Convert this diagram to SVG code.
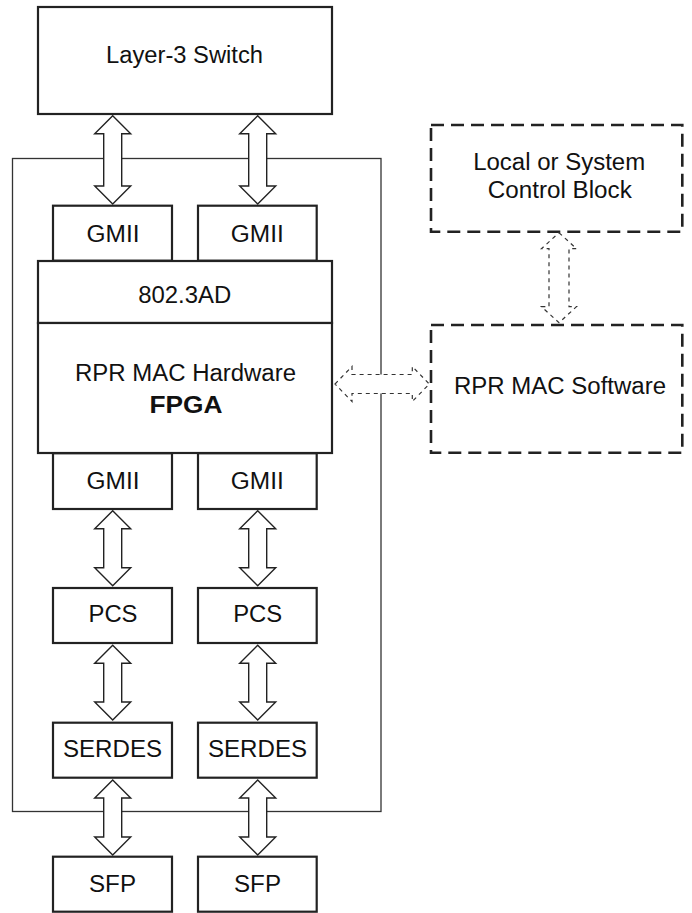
<svg xmlns="http://www.w3.org/2000/svg" width="692" height="913" viewBox="0 0 692 913">
  <style>
    .box { fill: #fff; stroke: #222; stroke-width: 2.2; }
    .dbox { fill: #fff; stroke: #222; stroke-width: 2.6; stroke-dasharray: 13 7; }
    .frame { fill: none; stroke: #333; stroke-width: 1.3; }
    .arrow { fill: #fff; stroke: #222; stroke-width: 1.4; stroke-linejoin: miter; }
    .darrow { fill: #fff; stroke: #333; stroke-width: 1.2; stroke-dasharray: 4 4; }
    text { font-family: "Liberation Sans", Arial, Helvetica, sans-serif; font-size: 23px; fill: #111; text-anchor: middle; }
    .bold { font-weight: bold; }
  </style>

  <!-- board outline -->
  <rect class="frame" x="12.5" y="158.5" width="368.5" height="653"/>

  <!-- nodes -->
  <g id="layer3-switch">
    <rect class="box" x="38" y="7" width="294" height="107"/>
    <text x="184.5" y="63.3" textLength="157" lengthAdjust="spacingAndGlyphs">Layer-3 Switch</text>
  </g>

  <g id="gmii-top-left">
    <rect class="box" x="53" y="205.7" width="119" height="55"/>
    <text x="113" y="242.3" textLength="53" lengthAdjust="spacingAndGlyphs">GMII</text>
  </g>
  <g id="gmii-top-right">
    <rect class="box" x="198" y="205.7" width="118.7" height="55"/>
    <text x="257.3" y="242.3" textLength="53" lengthAdjust="spacingAndGlyphs">GMII</text>
  </g>

  <g id="ieee-802-3ad">
    <rect class="box" x="38" y="261" width="294" height="62"/>
    <text x="184.7" y="302.7" textLength="93" lengthAdjust="spacingAndGlyphs">802.3AD</text>
  </g>

  <g id="rpr-mac-hardware">
    <rect class="box" x="38" y="323" width="294" height="130"/>
    <text x="185.5" y="380.7" textLength="221" lengthAdjust="spacingAndGlyphs">RPR MAC Hardware</text>
    <text class="bold" x="186" y="412.7" textLength="73" lengthAdjust="spacingAndGlyphs">FPGA</text>
  </g>

  <g id="gmii-bottom-left">
    <rect class="box" x="53" y="453.3" width="119" height="55.7"/>
    <text x="113" y="489" textLength="53" lengthAdjust="spacingAndGlyphs">GMII</text>
  </g>
  <g id="gmii-bottom-right">
    <rect class="box" x="198" y="453.3" width="118.7" height="55.7"/>
    <text x="257.3" y="489" textLength="53" lengthAdjust="spacingAndGlyphs">GMII</text>
  </g>

  <g id="pcs-left">
    <rect class="box" x="53" y="588" width="119" height="55"/>
    <text x="113" y="622.3" textLength="49" lengthAdjust="spacingAndGlyphs">PCS</text>
  </g>
  <g id="pcs-right">
    <rect class="box" x="198" y="588" width="118.7" height="55"/>
    <text x="257.7" y="622.3" textLength="49" lengthAdjust="spacingAndGlyphs">PCS</text>
  </g>

  <g id="serdes-left">
    <rect class="box" x="53" y="722.7" width="119" height="55"/>
    <text x="112.5" y="757.3" textLength="99" lengthAdjust="spacingAndGlyphs">SERDES</text>
  </g>
  <g id="serdes-right">
    <rect class="box" x="198" y="722.7" width="118.7" height="55"/>
    <text x="257.5" y="757.3" textLength="99" lengthAdjust="spacingAndGlyphs">SERDES</text>
  </g>

  <g id="sfp-left">
    <rect class="box" x="53" y="856.7" width="119" height="55"/>
    <text x="112.5" y="891.7" textLength="47" lengthAdjust="spacingAndGlyphs">SFP</text>
  </g>
  <g id="sfp-right">
    <rect class="box" x="198" y="856.7" width="118.7" height="55"/>
    <text x="257.5" y="891.7" textLength="47" lengthAdjust="spacingAndGlyphs">SFP</text>
  </g>

  <g id="control-block">
    <rect class="dbox" x="431" y="125" width="251.3" height="106.7"/>
    <text x="559.2" y="170" textLength="172" lengthAdjust="spacingAndGlyphs">Local or System</text>
    <text x="559.8" y="198.3" textLength="144" lengthAdjust="spacingAndGlyphs">Control Block</text>
  </g>

  <g id="rpr-mac-software">
    <rect class="dbox" x="431" y="325" width="251.3" height="127.7"/>
    <text x="560" y="394" textLength="212" lengthAdjust="spacingAndGlyphs">RPR MAC Software</text>
  </g>

  <!-- connectors: hollow double-headed arrows -->
  <g id="connectors">
    <!-- switch to upper GMII -->
    <polygon class="arrow" points="112.7,115.7 130.7,133.7 121.7,133.7 121.7,186 130.7,186 112.7,204 94.7,186 103.7,186 103.7,133.7 94.7,133.7"/>
    <polygon class="arrow" points="257.7,115.7 275.7,133.7 266.7,133.7 266.7,186 275.7,186 257.7,204 239.7,186 248.7,186 248.7,133.7 239.7,133.7"/>
    <!-- lower GMII to PCS -->
    <polygon class="arrow" points="112.7,510.7 130.7,528.7 121.7,528.7 121.7,567.7 130.7,567.7 112.7,585.7 94.7,567.7 103.7,567.7 103.7,528.7 94.7,528.7"/>
    <polygon class="arrow" points="257.7,510.7 275.7,528.7 266.7,528.7 266.7,567.7 275.7,567.7 257.7,585.7 239.7,567.7 248.7,567.7 248.7,528.7 239.7,528.7"/>
    <!-- PCS to SERDES -->
    <polygon class="arrow" points="112.7,645.3 130.7,663.3 121.7,663.3 121.7,702 130.7,702 112.7,720 94.7,702 103.7,702 103.7,663.3 94.7,663.3"/>
    <polygon class="arrow" points="257.7,645.3 275.7,663.3 266.7,663.3 266.7,702 275.7,702 257.7,720 239.7,702 248.7,702 248.7,663.3 239.7,663.3"/>
    <!-- SERDES to SFP -->
    <polygon class="arrow" points="112.7,780 130.7,798 121.7,798 121.7,837 130.7,837 112.7,855 94.7,837 103.7,837 103.7,798 94.7,798"/>
    <polygon class="arrow" points="257.7,780 275.7,798 266.7,798 266.7,837 275.7,837 257.7,855 239.7,837 248.7,837 248.7,798 239.7,798"/>

    <!-- software links (dashed) -->
    <polygon class="darrow" points="559,232.7 576.5,248.7 569,248.7 569,306.7 576.5,306.7 559,322.7 541.5,306.7 549,306.7 549,248.7 541.5,248.7"/>
    <polygon class="darrow" points="335,384 352,366.5 352,374.5 412.3,374.5 412.3,366.5 429.3,384 412.3,401.5 412.3,393.5 352,393.5 352,401.5"/>
  </g>
</svg>
